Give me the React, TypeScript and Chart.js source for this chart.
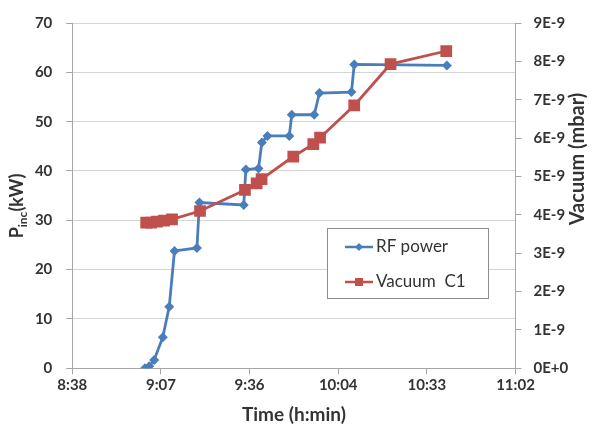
import React, { useEffect, useRef } from 'react';
import { Chart, registerables } from 'chart.js';
Chart.register(...registerables);

// Time in minutes since midnight
const rfTimes = [542.0, 543.4, 545.0, 547.8, 549.9, 551.6, 558.9, 559.7, 574.1, 574.8, 578.9, 580.0, 581.8, 588.9, 589.7, 597.0, 598.7, 609.1, 610.0, 640.1];
const rfPower = [0, 0.4, 1.7, 6.3, 12.5, 23.8, 24.4, 33.6, 33.1, 40.3, 40.5, 45.8, 47.1, 47.1, 51.4, 51.4, 55.8, 56.0, 61.6, 61.4];
const vacTimes = [542.4, 544.0, 545.9, 548.2, 550.8, 559.9, 574.5, 578.3, 579.9, 590.2, 596.7, 598.9, 610.0, 621.8, 639.9];
const vacuumE9 = [3.80, 3.80, 3.82, 3.85, 3.88, 4.10, 4.65, 4.82, 4.93, 5.52, 5.84, 6.01, 6.85, 7.93, 8.27];

const xTickMinutes = [518.4, 547.2, 576, 604.8, 633.6, 662.4];
const xTickLabels = ['8:38', '9:07', '9:36', '10:04', '10:33', '11:02'];
const leftTickValues = [0, 10, 20, 30, 40, 50, 60, 70];
const rightTickValues = [0, 1, 2, 3, 4, 5, 6, 7, 8, 9];
const rightTickLabels = ['0E+0', '1E-9', '2E-9', '3E-9', '4E-9', '5E-9', '6E-9', '7E-9', '8E-9', '9E-9'];

const seriesNames = ['RF power', 'Vacuum  C1'];
const BLUE = '#4A7EBB';
const RED = '#C0504D';
const TEXT = '#333333';
const FONT = 'Lato, "Liberation Sans", sans-serif';

const overlayPlugin = {
  id: 'overlay',
  afterDraw(chart: any) {
    const ctx = chart.ctx as CanvasRenderingContext2D;
    // Left axis title with subscript
    ctx.save();
    ctx.translate(17, 206);
    ctx.rotate(-Math.PI / 2);
    ctx.fillStyle = TEXT;
    ctx.textBaseline = 'middle';
    const big = `bold 18px ${FONT}`;
    const small = `bold 12px ${FONT}`;
    ctx.font = big;
    const wP = ctx.measureText('P').width;
    const wK = ctx.measureText('(kW)').width;
    ctx.font = small;
    const wI = ctx.measureText('inc').width;
    const total = wP + wI + wK;
    let x = -total / 2;
    ctx.font = big;
    ctx.textAlign = 'left';
    ctx.fillText('P', x, 0);
    x += wP;
    ctx.font = small;
    ctx.fillText('inc', x, 6);
    x += wI;
    ctx.font = big;
    ctx.fillText('(kW)', x, 0);
    ctx.restore();

    // Right axis title
    ctx.save();
    ctx.translate(578, 159);
    ctx.rotate(-Math.PI / 2);
    ctx.fillStyle = TEXT;
    ctx.textAlign = 'center';
    ctx.textBaseline = 'middle';
    ctx.font = `bold 20px ${FONT}`;
    ctx.fillText('Vacuum (mbar)', 0, 0);
    ctx.restore();

    // Legend
    ctx.save();
    const bx = 327.5, by = 228.5, bw = 161, bh = 70;
    ctx.fillStyle = '#ffffff';
    ctx.fillRect(bx, by, bw, bh);
    ctx.strokeStyle = '#8c8c8c';
    ctx.lineWidth = 1;
    ctx.strokeRect(bx, by, bw, bh);
    const rows = [247, 282];
    const colors = [BLUE, RED];
    rows.forEach((ry, i) => {
      ctx.strokeStyle = colors[i];
      ctx.lineWidth = 2.5;
      ctx.beginPath();
      ctx.moveTo(345, ry);
      ctx.lineTo(373, ry);
      ctx.stroke();
      ctx.fillStyle = colors[i];
      if (i === 0) {
        ctx.beginPath();
        ctx.moveTo(359, ry - 4);
        ctx.lineTo(363, ry);
        ctx.lineTo(359, ry + 4);
        ctx.lineTo(355, ry);
        ctx.closePath();
        ctx.fill();
      } else {
        ctx.fillRect(355, ry - 4, 8, 8);
      }
      ctx.fillStyle = TEXT;
      ctx.font = `17px ${FONT}`;
      ctx.textAlign = 'left';
      ctx.textBaseline = 'middle';
      ctx.fillText(seriesNames[i], 376, ry);
    });
    ctx.restore();
  },
};

export default function App() {
  const ref = useRef<HTMLCanvasElement>(null);
  useEffect(() => {
    document.body.style.margin = '0';
    const chart = new Chart(ref.current as HTMLCanvasElement, {
      type: 'line',
      data: {
        datasets: [
          {
            label: seriesNames[0],
            data: rfTimes.map((t, i) => ({ x: t, y: rfPower[i] })),
            yAxisID: 'y',
            borderColor: BLUE,
            backgroundColor: BLUE,
            borderWidth: 2.8,
            pointStyle: 'rectRot',
            pointRadius: 5,
            pointBorderWidth: 0,
            tension: 0,
            order: 1,
          },
          {
            label: seriesNames[1],
            data: vacTimes.map((t, i) => ({ x: t, y: vacuumE9[i] })),
            yAxisID: 'y1',
            borderColor: RED,
            backgroundColor: RED,
            borderWidth: 2.8,
            pointStyle: 'rect',
            pointRadius: 8.3,
            pointBorderWidth: 0,
            tension: 0,
            order: 0,
          },
        ],
      },
      options: {
        animation: false,
        responsive: true,
        maintainAspectRatio: false,
        layout: { padding: { top: 19, left: 0, right: 0, bottom: 0 } },
        plugins: { legend: { display: false }, tooltip: { enabled: false } },
        scales: {
          x: {
            type: 'linear',
            min: xTickMinutes[0],
            max: xTickMinutes[xTickMinutes.length - 1],
            afterBuildTicks: (s: any) => {
              s.ticks = xTickMinutes.map((v) => ({ value: v }));
            },
            afterFit: (s: any) => {
              s.height = 61.7;
            },
            ticks: {
              autoSkip: false,
              maxRotation: 0,
              padding: 2,
              color: TEXT,
              font: { family: FONT, size: 15, weight: 'bold' },
              callback: (_v: any, i: number) => xTickLabels[i],
            },
            grid: { drawOnChartArea: false, drawTicks: true, tickLength: 6, tickColor: '#a6a6a6' },
            border: { color: '#a6a6a6', width: 1 },
            title: {
              display: true,
              text: 'Time (h:min)',
              color: TEXT,
              font: { family: FONT, size: 19, weight: 'bold' },
              padding: { top: 0, bottom: 4 },
            },
          },
          y: {
            type: 'linear',
            position: 'left',
            min: 0,
            max: 70,
            afterBuildTicks: (s: any) => {
              s.ticks = leftTickValues.map((v) => ({ value: v }));
            },
            afterFit: (s: any) => {
              s.width = 72.3;
            },
            ticks: {
              padding: 14,
              color: TEXT,
              font: { family: FONT, size: 15, weight: 'bold' },
            },
            grid: { color: '#d4d4d4', lineWidth: 1, drawTicks: true, tickLength: 6, tickColor: '#a6a6a6' },
            border: { color: '#a6a6a6', width: 1 },
          },
          y1: {
            type: 'linear',
            position: 'right',
            min: 0,
            max: 9,
            afterBuildTicks: (s: any) => {
              s.ticks = rightTickValues.map((v) => ({ value: v }));
            },
            afterFit: (s: any) => {
              s.width = 602 - 515.5;
            },
            ticks: {
              padding: 12,
              color: TEXT,
              font: { family: FONT, size: 15, weight: 'bold' },
              callback: (_v: any, i: number) => rightTickLabels[i],
            },
            grid: { drawOnChartArea: false, drawTicks: true, tickLength: 6, tickColor: '#a6a6a6' },
            border: { color: '#a6a6a6', width: 1 },
          },
        },
      },
      plugins: [overlayPlugin],
    } as any);
    return () => chart.destroy();
  }, []);
  return (
    <div style={{ position: 'relative', width: 602, height: 430, background: '#ffffff' }}>
      <canvas ref={ref} />
    </div>
  );
}
